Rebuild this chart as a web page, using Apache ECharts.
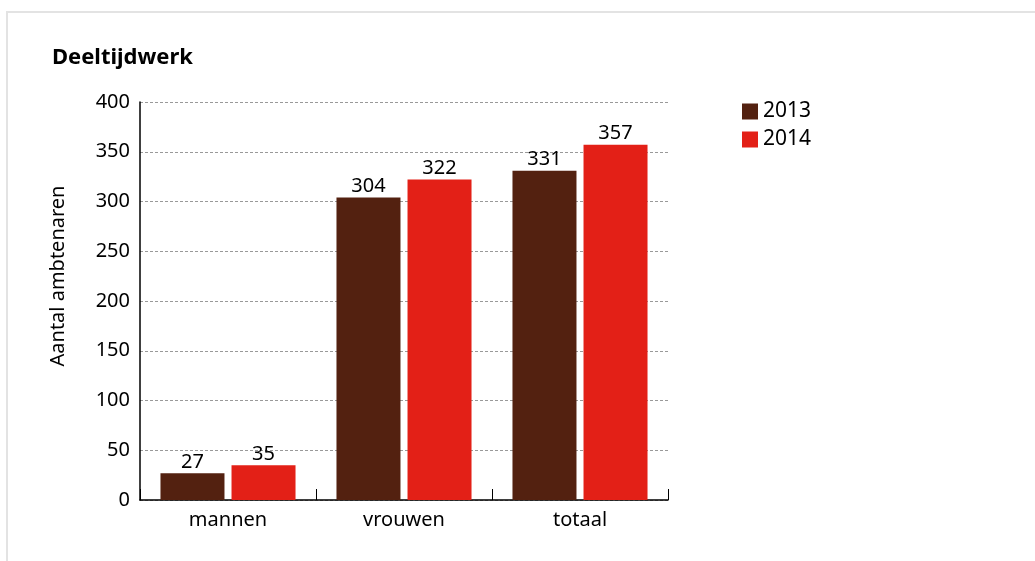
<!DOCTYPE html>
<html><head><meta charset="utf-8">
<script src="https://cdn.jsdelivr.net/npm/echarts@6/dist/echarts.min.js"></script>
<style>
html,body{margin:0;padding:0;background:#fff;}
#frame{position:absolute;left:6px;top:11px;width:1100px;height:600px;border:2px solid #e3e3e3;box-sizing:border-box;}
#chart{position:absolute;left:0;top:0;width:1035px;height:561px;}
</style></head>
<body>
<div id="frame"></div>
<div id="chart"></div>
<script>
const categories = ['mannen', 'vrouwen', 'totaal'];
const seriesNames = ['2013', '2014'];
const values2013 = [27, 304, 331];
const values2014 = [35, 322, 357];
const colors = ['#532110', '#e32017'];
const font = '"Noto Sans", "Open Sans", sans-serif';

const chart = echarts.init(document.getElementById('chart'), null, {renderer: 'canvas'});
chart.setOption({
  animation: false,
  textStyle: {fontFamily: font},
  title: {text: 'Deeltijdwerk', left: 47, top: 42, textStyle: {fontFamily: font, fontSize: 22, fontWeight: 'bold', color: '#000'}},
  legend: {
    orient: 'vertical', left: 737, top: 96, itemWidth: 16, itemHeight: 16, itemGap: 7,
    icon: 'rect', textStyle: {fontFamily: font, fontSize: 21, color: '#000'},
    data: seriesNames
  },
  grid: {left: 140, right: 367, top: 102, bottom: 61, containLabel: false},
  xAxis: {
    type: 'category', data: categories,
    axisLine: {lineStyle: {color: '#000', width: 1.5}},
    axisTick: {show: true, inside: true, length: 11, lineStyle: {color: '#000'}},
    axisLabel: {fontFamily: font, fontSize: 20, color: '#000', margin: 10}
  },
  yAxis: {
    type: 'value', min: 0, max: 400, interval: 50,
    name: 'Aantal ambtenaren', nameLocation: 'middle', nameGap: 72, nameRotate: 90,
    nameTextStyle: {fontFamily: font, fontSize: 20, color: '#000', padding: [0, 0, 0, 50]},
    axisLine: {show: true, lineStyle: {color: '#000', width: 1.5}},
    axisTick: {show: false},
    axisLabel: {fontFamily: font, fontSize: 20, color: '#000', margin: 10},
    splitLine: {lineStyle: {color: '#999', type: [3, 2], width: 1}}
  },
  series: [
    {name: seriesNames[0], type: 'bar', data: values2013, barWidth: 64, barGap: '11%',
     itemStyle: {color: colors[0]},
     label: {show: true, position: 'top', fontFamily: font, fontSize: 20, color: '#000', distance: 1}},
    {name: seriesNames[1], type: 'bar', data: values2014, barWidth: 64,
     itemStyle: {color: colors[1]},
     label: {show: true, position: 'top', fontFamily: font, fontSize: 20, color: '#000', distance: 1}}
  ]
});
</script>
</body></html>
